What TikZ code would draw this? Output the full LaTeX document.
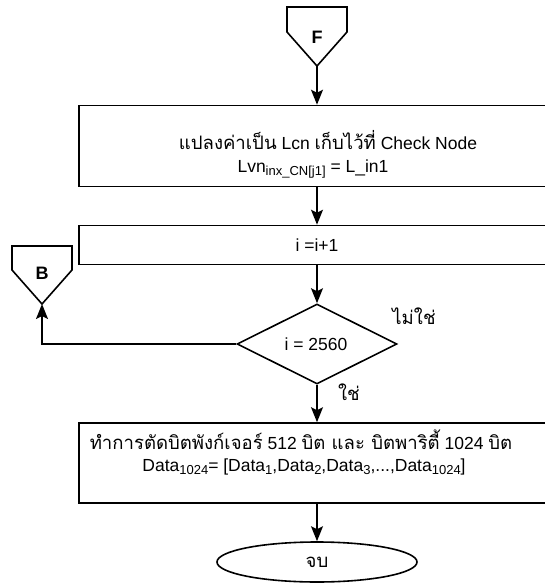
\documentclass[tikz,border=0pt]{standalone}
\usepackage{fontspec}
\setmainfont{Liberation Sans}
\newfontfamily\thai[Script=Thai,Scale=1.06]{Loma}
\usetikzlibrary{shapes.geometric,arrows.meta}
\newcommand{\sbs}[1]{\raisebox{-0.35ex}{\fontsize{13}{13}\selectfont #1}}
\begin{document}
\begin{tikzpicture}[x=1pt,y=-1pt,
  line width=1.6pt,
  every node/.style={font=\fontsize{17.5}{20}\selectfont},
  txt/.style={inner sep=0pt},
  arr/.style={-{Stealth[length=15pt,width=12pt,inset=3pt]}},
  procbox/.style={draw,rectangle,minimum width=476pt,inner sep=0pt,align=center},
  conn/.style={draw,line join=miter}
]
\useasboundingbox (0,0) rectangle (545,583);
\clip (0,0) rectangle (545,583);
% F connector
\coordinate (Fa) at (287,7);
\coordinate (Fb) at (347,7);
\coordinate (Fc) at (347,32);
\coordinate (Ftip) at (317,66);
\coordinate (Fd) at (287,32);
\draw[conn] (Fa) -- (Fb) -- (Fc) -- (Ftip) -- (Fd) -- cycle;
\node[font=\fontsize{18}{18}\selectfont\bfseries] (Flbl) at (317,37) {F};
% boxes
\node[procbox,minimum height=81pt] (box1) at (317,146) {};
\node[txt] (box1a) at (328,140) {{\thai แปลงค่าเป็น} Lcn {\thai เก็บไว้ที่} Check Node};
\node[txt] (box1b) at (313,169) {Lvn\sbs{inx\_CN[j1]} = L\_in1};
\node[procbox,minimum height=39pt] (box2) at (317,245) {i =i+1};
\node[draw,diamond,minimum width=160pt,minimum height=80pt,inner sep=0pt] (dec) at (317,344) {};
\node (declbl) at (316,344) {i = 2560};
\node[procbox,minimum height=80pt] (box3) at (317,463) {};
\node[txt] (box3a) at (301,440) {{\thai ทำการตัดบิตพังก์เจอร์} 512 {\thai บิต และ บิตพาริตี้} 1024 {\thai บิต}};
\node[txt] (box3b) at (304,467) {Data\sbs{1024}= [Data\sbs{1},Data\sbs{2},Data\sbs{3},...,Data\sbs{1024}]};
\node[draw,ellipse,minimum width=200pt,minimum height=40pt,inner sep=0pt] (endn) at (317,562) {\thai จบ};
% B connector
\coordinate (Ba) at (12,246);
\coordinate (Bb) at (72,246);
\coordinate (Bc) at (72,270);
\coordinate (Btip) at (42,304);
\coordinate (Bd) at (12,270);
\draw[conn] (Ba) -- (Bb) -- (Bc) -- (Btip) -- (Bd) -- cycle;
\node[font=\fontsize{18}{18}\selectfont\bfseries] (Blbl) at (42,273) {B};
% connectors
\draw[arr] (Ftip) -- (box1.north);
\draw[arr] (box1.south) -- (box2.north);
\draw[arr] (box2.south) -- (dec.north);
\draw[arr] (dec.south) -- (box3.north);
\draw[arr] (dec.west) -| (Btip);
\draw[arr] (box3.south) -- (endn.north);
\node[anchor=west] (yes) at (334,392) {\thai ใช่};
\node (no) at (414,316) {\thai ไม่ใช่};
\end{tikzpicture}
\end{document}
